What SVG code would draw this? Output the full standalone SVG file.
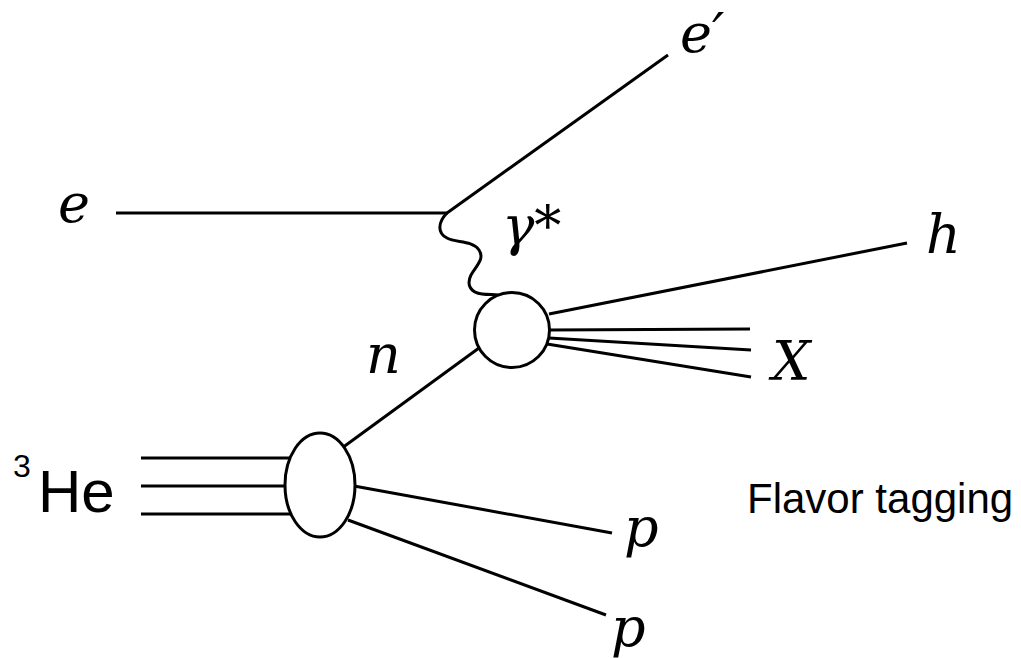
<svg xmlns="http://www.w3.org/2000/svg" width="1021" height="658" viewBox="0 0 1021 658">
<style>
.ln{stroke:#000;stroke-width:3;fill:none;stroke-linecap:butt}
.nd{stroke:#000;stroke-width:3;fill:#fff}
.m{font-family:"DejaVu Serif","Liberation Serif",serif;font-style:italic;font-size:54px;fill:#000}
.s{font-family:"Liberation Sans",sans-serif;fill:#000}
</style>
<rect width="1021" height="658" fill="#fff"/>
<g id="connectors">
<line class="ln" x1="116" y1="213" x2="448" y2="213"/>
<line class="ln" x1="447" y1="213" x2="668" y2="55"/>
<path class="ln" d="M447,213 C438,222 437,233 447,238 C456,243 472,240 479,250 C485,259 476,266 471,275 C466,285 471,293 482,294 C489,295 494,294 498,295"/>
<line class="ln" x1="549" y1="314" x2="907" y2="243"/>
<line class="ln" x1="549" y1="330" x2="750" y2="329"/>
<line class="ln" x1="549" y1="338" x2="751" y2="350"/>
<line class="ln" x1="547" y1="344" x2="751" y2="377"/>
<line class="ln" x1="479" y1="348" x2="342" y2="448"/>
<line class="ln" x1="141" y1="458" x2="291" y2="458"/>
<line class="ln" x1="141" y1="486" x2="286" y2="486"/>
<line class="ln" x1="141" y1="514" x2="291" y2="514"/>
<line class="ln" x1="354" y1="486" x2="612" y2="533"/>
<line class="ln" x1="348" y1="520" x2="606" y2="615"/>
</g>
<g id="vertex-top"><circle class="nd" cx="512" cy="330" r="37.5"/></g>
<g id="vertex-bottom"><ellipse class="nd" cx="320" cy="485" rx="35" ry="52"/></g>
<g id="labels">
<text class="m" x="58" y="222">e</text>
<text class="m" x="680" y="52">e′</text>
<text class="m" x="502" y="245">γ<tspan font-style="normal">*</tspan></text>
<text class="m" x="926" y="253">h</text>
<text class="m" x="772" y="380">X</text>
<text class="m" x="366" y="373">n</text>
<text class="m" x="624" y="546">p</text>
<text class="m" x="611" y="646">p</text>
<text class="s" x="13" y="477" font-size="32">3</text>
<text class="s" x="38" y="512" font-size="60">He</text>
<text class="s" x="747" y="513" font-size="42">Flavor tagging</text>
</g>
</svg>
